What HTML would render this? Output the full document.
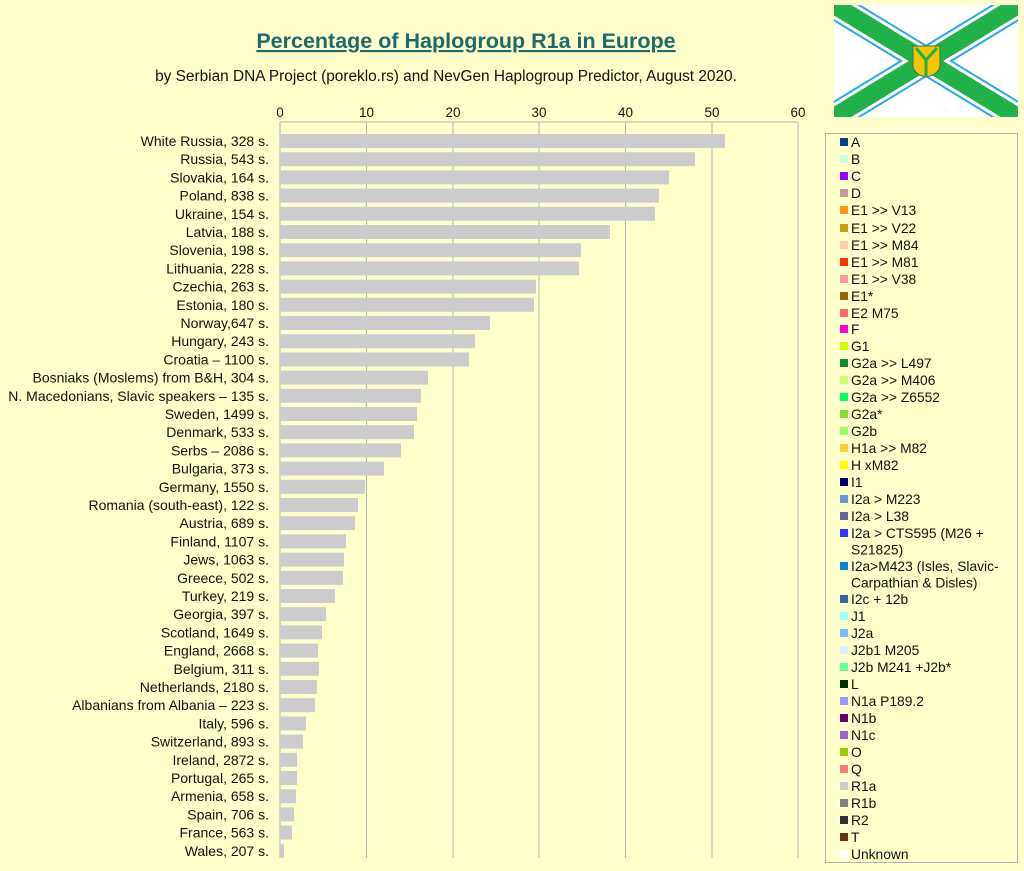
<!DOCTYPE html>
<html><head><meta charset="utf-8"><style>
html,body{margin:0;padding:0;background:#ffffcc;}
svg{display:block;font-family:"Liberation Sans",sans-serif;}
</style></head><body>
<svg width="1024" height="871" viewBox="0 0 1024 871" xmlns="http://www.w3.org/2000/svg">
<rect width="1024" height="871" fill="#ffffcc"/>
<text x="466" y="48" text-anchor="middle" font-size="21.5" font-weight="bold" fill="#1e6a6a" text-decoration="underline">Percentage of Haplogroup R1a in Europe</text>
<text x="446" y="81" text-anchor="middle" font-size="15.4" fill="#111">by Serbian DNA Project (poreklo.rs) and NevGen Haplogroup Predictor, August 2020.</text>
<defs><clipPath id="fc"><rect x="834" y="5" width="184" height="112"/></clipPath></defs>
<g clip-path="url(#fc)">
<rect x="834" y="5" width="184" height="112" fill="#fff"/>
<line x1="834" y1="5" x2="1018" y2="117" stroke="#29aae1" stroke-width="28"/>
<line x1="834" y1="117" x2="1018" y2="5" stroke="#29aae1" stroke-width="28"/>
<line x1="834" y1="5" x2="1018" y2="117" stroke="#fff" stroke-width="24"/>
<line x1="834" y1="117" x2="1018" y2="5" stroke="#fff" stroke-width="24"/>
<line x1="834" y1="5" x2="1018" y2="117" stroke="#22b04b" stroke-width="18"/>
<line x1="834" y1="117" x2="1018" y2="5" stroke="#22b04b" stroke-width="18"/>
</g>
<path d="M913 46 L940 46 L940 65 Q940 74 926 77 Q913 74 913 65 Z" fill="#f6c400" stroke="#2a7a4a" stroke-width="1"/>
<path d="M916 48 L926 60 L937 48 M926 60 L926 76" stroke="#22b04b" stroke-width="3" fill="none"/>
<g stroke="#b3b3b3" stroke-width="1">
<line x1="280" y1="122" x2="280" y2="858"/><line x1="366.5" y1="122" x2="366.5" y2="858"/><line x1="453" y1="122" x2="453" y2="858"/><line x1="539" y1="122" x2="539" y2="858"/><line x1="625.5" y1="122" x2="625.5" y2="858"/><line x1="712" y1="122" x2="712" y2="858"/><line x1="798" y1="122" x2="798" y2="858"/>
<line x1="280" y1="122" x2="798" y2="122"/>
</g>
<g font-size="13.5" fill="#111" text-anchor="middle">
<text x="280" y="117">0</text><text x="366.5" y="117">10</text><text x="453" y="117">20</text><text x="539" y="117">30</text><text x="625.5" y="117">40</text><text x="712" y="117">50</text><text x="798" y="117">60</text>
</g>
<g id="bars" fill="#cccccc"></g>
<g id="labels" font-size="14" fill="#111" text-anchor="end"></g>
<rect x="825.5" y="133.5" width="192" height="729" fill="#ffffcc" stroke="#b3b3b3"/>
<g id="leg" font-size="13.8" fill="#111"></g>
<script>
var d=[["White Russia, 328 s.",725],["Russia, 543 s.",695],["Slovakia, 164 s.",669],["Poland, 838 s.",659],["Ukraine, 154 s.",655],["Latvia, 188 s.",610],["Slovenia, 198 s.",581],["Lithuania, 228 s.",579],["Czechia, 263 s.",536],["Estonia, 180 s.",534],["Norway,647 s.",490],["Hungary, 243 s.",475],["Croatia – 1100 s.",469],["Bosniaks (Moslems) from B&H, 304 s.",428],["N. Macedonians, Slavic speakers – 135 s.",421],["Sweden, 1499 s.",417],["Denmark, 533 s.",414],["Serbs – 2086 s.",401],["Bulgaria, 373 s.",384],["Germany, 1550 s.",365],["Romania (south-east), 122 s.",358],["Austria, 689 s.",355],["Finland, 1107 s.",346],["Jews, 1063 s.",344],["Greece, 502 s.",343],["Turkey, 219 s.",335],["Georgia, 397 s.",326],["Scotland, 1649 s.",322],["England, 2668 s.",318],["Belgium, 311 s.",319],["Netherlands, 2180 s.",317],["Albanians from Albania – 223 s.",315],["Italy, 596 s.",306],["Switzerland, 893 s.",303],["Ireland, 2872 s.",297],["Portugal, 265 s.",297],["Armenia, 658 s.",296],["Spain, 706 s.",294],["France, 563 s.",292],["Wales, 207 s.",284]];
var NS="http://www.w3.org/2000/svg",b=document.getElementById("bars"),l=document.getElementById("labels");
d.forEach(function(r,i){var y=141+i*18.2;var e=document.createElementNS(NS,"rect");e.setAttribute("x",280);e.setAttribute("y",y-7);e.setAttribute("width",r[1]-280);e.setAttribute("height",14);b.appendChild(e);
var t=document.createElementNS(NS,"text");t.setAttribute("x",269);t.setAttribute("y",y+5);t.textContent=r[0];l.appendChild(t);});
var g=[["A","#004586",142],["B","#ccffdd",159],["C","#9900ff",176],["D","#cc9999",193],["E1 >> V13","#ff950e",210],["E1 >> V22","#c9a00e",228],["E1 >> M84","#ffccaa",245],["E1 >> M81","#ff3300",262],["E1 >> V38","#ff9999",279],["E1*","#996600",296],["E2 M75","#ff6666",313],["F","#ff00cc",329],["G1","#ccff00",346],["G2a >> L497","#118833",363],["G2a >> M406","#ccff66",380],["G2a >> Z6552","#00ff66",397],["G2a*","#88dd33",414],["G2b","#99ff66",431],["H1a >> M82","#ffcc33",448],["H xM82","#ffff00",465],["I1","#000066",482],["I2a > M223","#6699cc",499],["I2a > L38","#666699",516],["I2a > CTS595 (M26 +|S21825)","#3333ff",533],["I2a>M423 (Isles, Slavic-|Carpathian & Disles)","#0088cc",566],["I2c + 12b","#336699",599],["J1","#99ffff",616],["J2a","#77bbff",633],["J2b1 M205","#ddeeff",650],["J2b M241 +J2b*","#66ff99",667],["L","#003300",684],["N1a P189.2","#9999ff",701],["N1b","#660066",718],["N1c","#9966cc",735],["O","#99cc00",752],["Q","#ff7777",769],["R1a","#cccccc",786],["R1b","#808080",803],["R2","#333333",820],["T","#663311",837],["Unknown","#ffffff",854]];
var lg=document.getElementById("leg");
g.forEach(function(r){var e=document.createElementNS(NS,"rect");e.setAttribute("x",840);e.setAttribute("y",r[2]-4);e.setAttribute("width",8);e.setAttribute("height",8);e.setAttribute("fill",r[1]);lg.appendChild(e);
r[0].split("|").forEach(function(s,k){var t=document.createElementNS(NS,"text");t.setAttribute("x",851);t.setAttribute("y",r[2]+5+k*16.5);t.textContent=s;lg.appendChild(t);});});
</script>
</svg>
</body></html>
